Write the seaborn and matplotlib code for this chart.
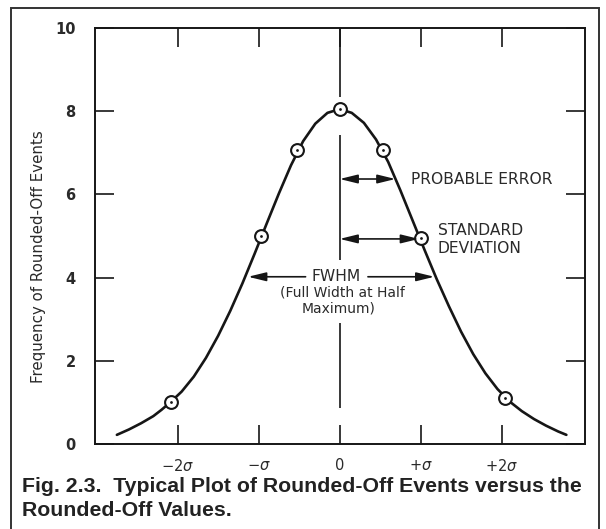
import matplotlib
matplotlib.use("Agg")
import matplotlib.pyplot as plt
import seaborn as sns
from matplotlib.patches import Rectangle

# ---- data ----
curve_x = [-2.75, -2.60, -2.45, -2.30, -2.20, -2.08, -1.95, -1.80, -1.65, -1.50,
           -1.35, -1.20, -1.05, -0.90, -0.75, -0.60, -0.45, -0.30, -0.15, 0.00,
           0.15, 0.30, 0.45, 0.60, 0.75, 0.90, 1.05, 1.20, 1.35, 1.50,
           1.65, 1.80, 1.95, 2.10, 2.25, 2.40, 2.55, 2.70, 2.80]
curve_y = [0.22, 0.35, 0.50, 0.67, 0.82, 1.02, 1.26, 1.62, 2.07, 2.60,
           3.20, 3.86, 4.57, 5.30, 6.02, 6.70, 7.28, 7.70, 7.96, 8.05,
           7.96, 7.72, 7.32, 6.78, 6.10, 5.38, 4.66, 3.96, 3.31, 2.70,
           2.16, 1.70, 1.32, 1.02, 0.79, 0.60, 0.44, 0.30, 0.22]
point_x = [-2.08, -0.97, -0.53, 0.00, 0.53, 1.00, 2.04]
point_y = [1.02, 5.01, 7.07, 8.05, 7.07, 4.96, 1.11]
x_ticks = [-2, -1, 0, 1, 2]
x_tick_labels = ["\u22122$\\sigma$", "\u2212$\\sigma$", "0", "+$\\sigma$", "+2$\\sigma$"]
y_ticks = [0, 2, 4, 6, 8, 10]
y_tick_labels = ["0", "2", "4", "6", "8", "10"]
y_label = "Frequency of Rounded-Off Events"
caption = "Fig. 2.3.  Typical Plot of Rounded-Off Events versus the\nRounded-Off Values."
pe_level, pe_half = 6.37, 0.69
sd_level, sd_half = 4.93, 0.98
fwhm_level, fwhm_half = 4.02, 1.15

ink = "#161616"
txt = "#2a2a2a"

sns.set_theme(style="white")
plt.rcParams['font.family'] = ['DejaVu Sans']
plt.rcParams['mathtext.fontset'] = 'dejavusans'

fig = plt.figure(figsize=(6.06, 5.29), dpi=100)
fig.patch.set_facecolor("white")
ax = fig.add_axes([95 / 606, 1 - 444 / 529, 490 / 606, 416 / 529])

sns.lineplot(x=curve_x, y=curve_y, ax=ax, color=ink, linewidth=1.9, sort=False,
             estimator=None, zorder=2)
sns.scatterplot(x=point_x, y=point_y, ax=ax, s=85, marker='o', facecolor='white',
                edgecolor=ink, linewidth=1.5, zorder=3)
sns.scatterplot(x=point_x, y=point_y, ax=ax, s=4, marker='o', color=ink,
                edgecolor=ink, linewidth=0, zorder=4)

ax.set_xlim(-3.02, 3.03)
ax.set_ylim(0, 10)
ax.set_xticks(x_ticks)
ax.set_xticklabels(x_tick_labels)
ax.set_yticks(y_ticks)
ax.set_yticklabels(y_tick_labels)
for s in ax.spines.values():
    s.set_color(ink)
    s.set_linewidth(1.4)
    s.set_visible(True)
ax.tick_params(axis='both', direction='in', length=14, width=1.2, color=ink,
               top=True, right=True, bottom=True, left=True)
ax.tick_params(axis='x', pad=10, labelsize=10.5, labelcolor=txt)
ax.tick_params(axis='y', pad=14, labelsize=10.5, labelcolor=txt)
for lab in ax.get_yticklabels():
    lab.set_fontweight('semibold')
ax.set_ylabel(y_label, fontsize=10.8, color=txt, labelpad=20)
ax.yaxis.set_label_coords(-0.101, 0.45)

# centre line (top segment, and lower segment broken by the FWHM text)
ax.vlines(0, 8.34, 10, color=ink, linewidth=1.2)
ax.vlines(0, 4.42, 7.43, color=ink, linewidth=1.2)
ax.vlines(0, 0.87, 2.91, color=ink, linewidth=1.2)

arrow_kw = dict(arrowstyle='<|-|>,head_length=0.9,head_width=0.22', color=ink,
                linewidth=1.2, shrinkA=0, shrinkB=0)
ax.annotate("", xy=(pe_half, pe_level), xytext=(0, pe_level), arrowprops=arrow_kw)
ax.annotate("", xy=(sd_half, sd_level), xytext=(0, sd_level), arrowprops=arrow_kw)
single_kw = dict(arrowstyle='-|>,head_length=0.9,head_width=0.22', color=ink,
                 linewidth=1.2, shrinkA=0, shrinkB=0)
ax.annotate("", xy=(-fwhm_half + 0.02, fwhm_level), xytext=(-0.42, fwhm_level),
            arrowprops=single_kw)
ax.annotate("", xy=(fwhm_half + 0.02, fwhm_level), xytext=(0.35, fwhm_level),
            arrowprops=single_kw)

ax.text(0.88, pe_level, "PROBABLE ERROR", fontsize=11.2, color=txt,
        va='center', ha='left')
ax.text(1.21, 5.14, "STANDARD", fontsize=11.2, color=txt, va='center', ha='left')
ax.text(1.21, 4.69, "DEVIATION", fontsize=11.2, color=txt, va='center', ha='left')
ax.text(-0.04, fwhm_level, "FWHM", fontsize=11.2, color=txt, va='center', ha='center')
ax.text(0.03, 3.63, "(Full Width at Half", fontsize=10, color=txt, va='center',
        ha='center')
ax.text(-0.01, 3.25, "Maximum)", fontsize=10, color=txt, va='center', ha='center')

# outer frame and caption
fig.patches.append(Rectangle((11 / 606, -0.02), 588 / 606, 1 - 8 / 529 + 0.02,
                             transform=fig.transFigure, fill=False,
                             edgecolor="#333333", linewidth=1.4))
fig.text(22 / 606, 1 - 477 / 529, caption, fontsize=15.3, fontweight='bold',
         color="#222222", family=['Liberation Sans', 'DejaVu Sans'],
         va='top', ha='left', linespacing=1.3)

fig.savefig("out.png", dpi=100, facecolor="white")
